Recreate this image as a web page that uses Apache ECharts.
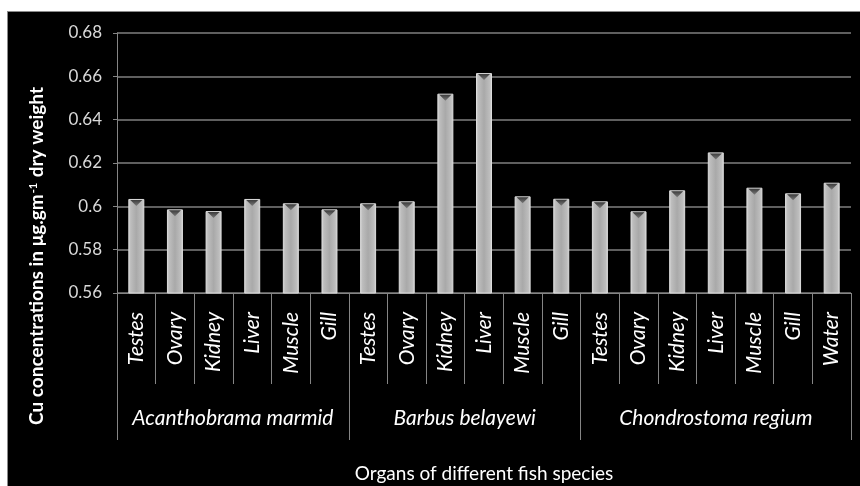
<!DOCTYPE html>
<html>
<head>
<meta charset="utf-8">
<script src="https://cdn.jsdelivr.net/npm/echarts@6/dist/echarts.min.js"></script>
<style>
  html, body { margin: 0; padding: 0; background: #ffffff; width: 860px; height: 486px; overflow: hidden; }
  #frame { position: absolute; left: 7px; top: 11px; width: 852px; height: 474px; background: #000; border-left: 1px solid #8a8a8a; border-top: 1px solid #8a8a8a; }
  #chart { width: 852px; height: 474px; }
</style>
</head>
<body>
<div id="frame"><div id="chart"></div></div>
<script>
// ---- data ----
const organs = ['Testes','Ovary','Kidney','Liver','Muscle','Gill',
                'Testes','Ovary','Kidney','Liver','Muscle','Gill',
                'Testes','Ovary','Kidney','Liver','Muscle','Gill','Water'];
const cuValues = [0.6034, 0.5986, 0.5978, 0.6034, 0.6014, 0.5986,
                  0.6014, 0.6023, 0.6520, 0.6615, 0.6046, 0.6035,
                  0.6023, 0.5977, 0.6074, 0.6249, 0.6086, 0.6060, 0.6109];
const species = ['Acanthobrama marmid', 'Barbus belayewi', 'Chondrostoma regium'];
const speciesSizes = [6, 6, 7];
const yTicks = [0.56, 0.58, 0.6, 0.62, 0.64, 0.66, 0.68];

// group boundaries and centres (in category units)
const bounds = [0];
speciesSizes.forEach(s => bounds.push(bounds[bounds.length - 1] + s));
const centres = speciesSizes.map((s, i) => bounds[i] + s / 2);

const FONT = 'Lato, "Open Sans", sans-serif';
const lineCol = '#858585';

const chart = echarts.init(document.getElementById('chart'), null, { renderer: 'canvas' });
chart.setOption({
  backgroundColor: '#000',
  animation: false,
  grid: { left: 109, right: 9, top: 21, bottom: 193, containLabel: false, outerBoundsMode: 'none' },
  xAxis: [
    {
      type: 'category',
      data: organs,
      position: 'bottom',
      boundaryGap: true,
      axisLine: { show: true, onZero: false, lineStyle: { color: lineCol, width: 1 } },
      axisTick: { show: true, interval: 0, length: 91, alignWithLabel: false, lineStyle: { color: lineCol, width: 1 } },
      axisLabel: { interval: 0, rotate: 90, margin: 19, color: '#ffffff', fontFamily: FONT, fontStyle: 'italic', fontSize: 21 },
      splitLine: { show: false }
    },
    {
      type: 'value',
      position: 'bottom',
      min: 0,
      max: organs.length,
      axisLine: { show: false, onZero: false },
      axisTick: { show: true, customValues: bounds, length: 147, lineStyle: { color: lineCol, width: 1 } },
      axisLabel: {
        show: true,
        customValues: centres,
        margin: 115,
        color: '#ffffff', fontFamily: FONT, fontStyle: 'italic', fontSize: 21,
        formatter: v => { const i = centres.indexOf(v); return i >= 0 ? species[i] : ''; }
      },
      splitLine: { show: false },
      name: 'Organs of different fish species',
      nameLocation: 'middle',
      nameGap: 171,
      nameTextStyle: { color: '#ffffff', fontFamily: FONT, fontSize: 19, verticalAlign: 'top' }
    }
  ],
  yAxis: {
    type: 'value',
    min: yTicks[0],
    max: yTicks[yTicks.length - 1],
    interval: 0.02,
    axisLine: { show: true, onZero: false, lineStyle: { color: lineCol, width: 1 } },
    axisTick: { show: true, length: 4, lineStyle: { color: lineCol } },
    axisLabel: { margin: 15, color: '#d9d9d9', fontFamily: FONT, fontSize: 17,
                 formatter: v => String(+v.toFixed(2)) },
    splitLine: { show: true, lineStyle: { color: '#7f7f7f', width: 1.5 } }
  },
  graphic: [{
    type: 'text',
    x: 29, y: 244,
    rotation: Math.PI / 2,
    silent: true,
    style: {
      text: '{a|Cu concentrations in \u03bcg.gm}{s|-1}{a| dry weight}',
      align: 'center',
      verticalAlign: 'middle',
      rich: {
        a: { fill: '#ffffff', fontFamily: FONT, fontWeight: 'bold', fontSize: 19 },
        s: { fill: '#ffffff', fontFamily: FONT, fontWeight: 'bold', fontSize: 11, verticalAlign: 'top', padding: [0, 1, 7, 1] }
      }
    }
  }],
  series: [
    {
      type: 'bar',
      data: cuValues,
      xAxisIndex: 0,
      barWidth: 16,
      silent: true,
      itemStyle: {
        color: new echarts.graphic.LinearGradient(0, 0, 1, 0, [
          { offset: 0, color: '#d6d6d6' },
          { offset: 0.15, color: '#bdbdbd' },
          { offset: 0.5, color: '#a9a9a9' },
          { offset: 0.85, color: '#bdbdbd' },
          { offset: 1, color: '#d6d6d6' }
        ]),
        borderColor: '#dcdcdc',
        borderWidth: 1
      }
    },
    {
      type: 'pictorialBar',
      data: cuValues,
      xAxisIndex: 0,
      silent: true,
      symbol: 'path://M0,0 L10,0 L5,4 Z',
      symbolSize: [12, 6],
      symbolPosition: 'end',
      symbolOffset: [0, 1],
      z: 5,
      itemStyle: {
        color: new echarts.graphic.LinearGradient(0, 0, 0, 1, [
          { offset: 0, color: '#3c3c3c' },
          { offset: 1, color: '#7a7a7a' }
        ])
      }
    }
  ]
});
</script>
</body>
</html>
